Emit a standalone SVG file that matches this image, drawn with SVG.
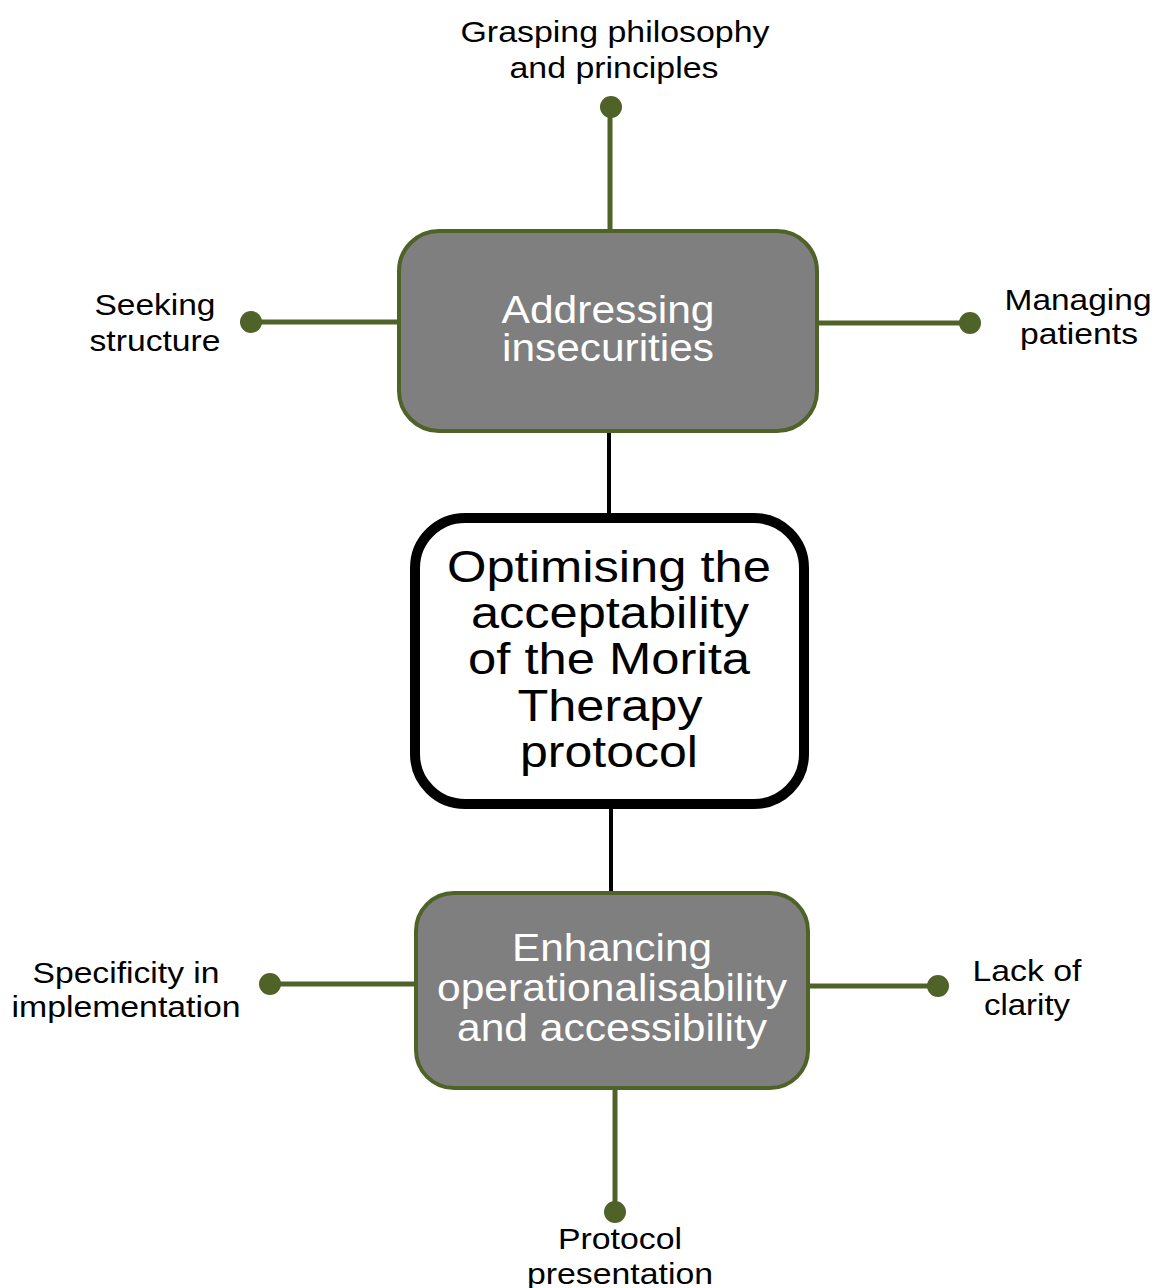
<svg xmlns="http://www.w3.org/2000/svg" width="1158" height="1288" viewBox="0 0 1158 1288">
<style>
.g{stroke:#4f6228;stroke-width:5;fill:none}
.k{stroke:#000;stroke-width:4;fill:none}
.dot{fill:#4f6228}
.sub{fill:#7f7f7f;stroke:#4f6228;stroke-width:4}
.t{font-family:"Liberation Sans",Arial,sans-serif;text-anchor:middle}
.s{font-size:30px;fill:#000}
.m{font-size:38px;fill:#fff}
.c{font-size:44px;fill:#000}
</style>
<rect width="1158" height="1288" fill="#fff"/>
<g id="connectors">
<line class="g" x1="610" y1="107" x2="610" y2="231"/>
<line class="g" x1="251" y1="322" x2="399" y2="322"/>
<line class="g" x1="808" y1="323" x2="970" y2="323"/>
<line class="k" x1="609" y1="431" x2="609" y2="516"/>
<line class="k" x1="611" y1="806" x2="611" y2="893"/>
<line class="g" x1="270" y1="984" x2="416" y2="984"/>
<line class="g" x1="808" y1="986" x2="938" y2="986"/>
<line class="g" x1="615" y1="1088" x2="615" y2="1212"/>
<circle class="dot" cx="611" cy="107" r="11"/>
<circle class="dot" cx="251" cy="322" r="11"/>
<circle class="dot" cx="970" cy="323" r="11"/>
<circle class="dot" cx="270" cy="984" r="11"/>
<circle class="dot" cx="938" cy="986" r="11"/>
<circle class="dot" cx="615" cy="1212" r="11"/>
</g>
<g id="n-addressing">
<rect class="sub" x="399" y="231" width="418" height="200" rx="40"/>
<text class="t m" x="608" y="323" textLength="213" lengthAdjust="spacingAndGlyphs">Addressing</text>
<text class="t m" x="608" y="361" textLength="212" lengthAdjust="spacingAndGlyphs">insecurities</text>
</g>
<g id="n-central">
<rect x="415" y="518" width="389" height="286" rx="50" fill="#fff" stroke="#000" stroke-width="10"/>
<text class="t c" x="609" y="582" textLength="324" lengthAdjust="spacingAndGlyphs">Optimising the</text>
<text class="t c" x="610" y="628" textLength="278" lengthAdjust="spacingAndGlyphs">acceptability</text>
<text class="t c" x="609" y="674" textLength="282" lengthAdjust="spacingAndGlyphs">of the Morita</text>
<text class="t c" x="610" y="721" textLength="185" lengthAdjust="spacingAndGlyphs">Therapy</text>
<text class="t c" x="609" y="767" textLength="178" lengthAdjust="spacingAndGlyphs">protocol</text>
</g>
<g id="n-enhancing">
<rect class="sub" x="416" y="893" width="392" height="195" rx="38"/>
<text class="t m" x="612" y="961" textLength="200" lengthAdjust="spacingAndGlyphs">Enhancing</text>
<text class="t m" x="612" y="1001" textLength="350" lengthAdjust="spacingAndGlyphs">operationalisability</text>
<text class="t m" x="612" y="1041" textLength="310" lengthAdjust="spacingAndGlyphs">and accessibility</text>
</g>
<g id="n-grasping">
<text class="t s" x="615" y="42" textLength="309" lengthAdjust="spacingAndGlyphs">Grasping philosophy</text>
<text class="t s" x="614" y="78" textLength="209" lengthAdjust="spacingAndGlyphs">and principles</text>
</g>
<g id="n-seeking">
<text class="t s" x="155" y="315" textLength="121" lengthAdjust="spacingAndGlyphs">Seeking</text>
<text class="t s" x="155" y="351" textLength="131" lengthAdjust="spacingAndGlyphs">structure</text>
</g>
<g id="n-managing">
<text class="t s" x="1078" y="310" textLength="147" lengthAdjust="spacingAndGlyphs">Managing</text>
<text class="t s" x="1079" y="344" textLength="118" lengthAdjust="spacingAndGlyphs">patients</text>
</g>
<g id="n-specificity">
<text class="t s" x="126" y="983" textLength="187" lengthAdjust="spacingAndGlyphs">Specificity in</text>
<text class="t s" x="126" y="1017" textLength="229" lengthAdjust="spacingAndGlyphs">implementation</text>
</g>
<g id="n-lack">
<text class="t s" x="1027" y="981" textLength="109" lengthAdjust="spacingAndGlyphs">Lack of</text>
<text class="t s" x="1027" y="1015" textLength="86" lengthAdjust="spacingAndGlyphs">clarity</text>
</g>
<g id="n-protocol">
<text class="t s" x="620" y="1249" textLength="124" lengthAdjust="spacingAndGlyphs">Protocol</text>
<text class="t s" x="620" y="1284" textLength="186" lengthAdjust="spacingAndGlyphs">presentation</text>
</g>
</svg>
